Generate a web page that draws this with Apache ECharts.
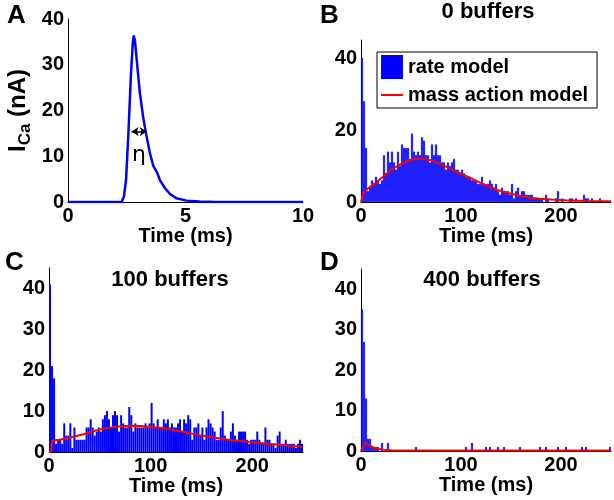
<!DOCTYPE html>
<html>
<head>
<meta charset="utf-8">
<script src="https://cdn.jsdelivr.net/npm/echarts@6/dist/echarts.min.js"></script>
<style>
html, body { margin: 0; padding: 0; background: #fff; }
#chart { width: 614px; height: 500px; }
</style>
</head>
<body>
<div id="chart"></div>
<script>
// A: calcium current, [time (ms), I_Ca (nA)]
var currentTrace = [[0,0],[2.28,0],[2.38,1.2],[2.47,4.8],[2.57,15],[2.68,28],[2.76,35],[2.8,36.4],[2.85,35.2],
  [2.95,29.6],[3.06,23.8],[3.2,18.5],[3.32,15],[3.49,10.6],[3.63,7.9],[3.72,7.1],[3.8,6.3],[3.91,4.8],
  [4.13,3],[4.34,1.75],[4.62,0.8],[5.05,0.3],[5.6,0.1],[6.3,0],[10,0]];

// B-D: histogram counts, 2 ms bins from 0 to 250 ms
var binWidth = 2;
var counts0 = [40,28,15,3,4,6,5,7,6,5,
  6,13,8,14,11,14,11,9,14,10,
  16,15,15,15,12,19,14,13,14,13,
  18,17,13,13,11,16,13,16,13,13,
  11,11,9,11,10,11,12,9,9,8,
  9,8,7,7,7,6,6,6,5,5,
  7,5,5,5,6,5,4,5,3,2,
  4,3,3,3,2,5,1,3,4,2,
  3,3,2,2,2,2,1,1,1,1,
  1,0,2,1,0,0,0,1,3,0,
  1,0,0,0,1,1,0,1,0,0,
  0,2,1,1,0,1,0,0,0,1,
  0,0,0,0,0];
var counts100 = [41,21,18,2,3,3,2,7,4,4,
  7,1,6,3,3,3,3,3,6,6,
  8,6,4,5,6,5,8,9,10,8,
  6,9,10,9,5,9,7,6,6,11,
  9,5,7,6,6,6,6,7,6,7,
  12,7,6,8,6,6,8,7,8,6,
  7,6,6,7,8,5,8,7,9,8,
  3,6,6,7,4,6,3,6,8,7,
  6,5,3,3,6,10,4,3,3,5,
  7,4,3,5,5,5,5,3,2,3,
  3,3,5,3,2,2,6,3,3,2,
  2,1,4,5,2,2,3,2,2,2,
  2,1,2,3,2];
var counts400 = [35,27,13,3,3,1,1,1,1,0,
  2,0,0,2,0,0,0,0,0,0,
  0,0,0,0,0,0,0,1,0,0,
  0,0,0,0,0,0,0,0,0,0,
  0,0,0,0,0,0,0,0,0,0,
  0,0,1,0,0,2,0,0,0,0,
  0,0,1,0,1,0,0,0,1,0,
  0,1,0,0,0,0,0,0,0,1,
  0,0,0,0,0,0,0,0,0,1,
  0,0,1,0,0,0,0,0,1,0,
  0,0,1,0,0,0,0,0,0,0,
  1,0,1,0,0,0,0,0,0,0,
  0,0,0,0,1];

// mass action model curves, [time (ms), rate]
var mass0 = [[0,0],[2,0],[2.5,2.5],[8,4],[16,5.6],[24,7.5],[32,9.3],[42,10.9],[52,11.9],[60,12.1],
  [70,11.6],[79,10.6],[90,9.2],[99,8],[110,6.6],[119,5.4],[130,4.1],[139,3.1],[150,2.3],[159,1.7],
  [170,1.2],[179,0.9],[190,0.7],[205,0.5],[225,0.3],[250,0.2]];
var mass100 = [[0,0],[2,0],[3,2.8],[10,3.0],[17,3.3],[25,3.8],[33,4.3],[41,4.9],[50,5.5],[58,5.9],
  [66,6.2],[74,6.35],[82,6.4],[90,6.35],[99,6.2],[107,6.0],[115,5.8],[123,5.4],[131,5.0],[140,4.55],
  [148,4.1],[164,3.5],[180,2.9],[196,2.5],[213,2.1],[230,1.7],[249,1.3]];
var mass400 = [[0,0],[2,0],[3,1.5],[4.5,2.1],[6,2.0],[9,1.4],[13,0.8],[18,0.5],[23,0.3],[30,0.2],
  [40,0.1],[60,0.1],[250,0.1]];

var seriesNames = ['rate model', 'mass action model'];
var panelTitles = ['0 buffers', '100 buffers', '400 buffers'];

var font = 'Liberation Sans, Arial, Helvetica, sans-serif';
var txt = { fontSize: 20, fontWeight: 'bold', color: '#000', fontFamily: font };

// empty bins get no bar at all
function toBars(counts) {
  var out = [];
  counts.forEach(function (c, i) {
    if (c > 0) out.push([i * binWidth + binWidth / 2, c]);
  });
  return out;
}

function xAx(grid, max, interval, showMax) {
  return {
    type: 'value', gridIndex: grid, min: 0, max: max, interval: interval,
    name: 'Time (ms)', nameLocation: 'middle', nameGap: 22, nameTextStyle: txt,
    axisLine: { onZero: false, lineStyle: { color: '#000', width: 1 } },
    axisTick: { show: false }, splitLine: { show: false },
    axisLabel: Object.assign({ margin: 4, showMaxLabel: showMax }, txt)
  };
}
function yAx(grid, max, interval, showMax) {
  return {
    type: 'value', gridIndex: grid, min: 0, max: max, interval: interval,
    axisLine: { show: true, lineStyle: { color: '#000', width: 1 } },
    axisTick: { show: false }, splitLine: { show: false },
    axisLabel: Object.assign({ margin: 4, showMaxLabel: showMax }, txt)
  };
}
function histSeries(idx, counts, mass, edge) {
  return [{
    name: seriesNames[0], type: 'bar', xAxisIndex: idx, yAxisIndex: idx,
    data: toBars(counts), barWidth: 2, silent: true,
    itemStyle: { color: '#0000ff', borderColor: '#0000ff', borderWidth: edge }
  }, {
    name: seriesNames[1], type: 'line', xAxisIndex: idx, yAxisIndex: idx,
    data: mass, showSymbol: false, silent: true,
    lineStyle: { color: '#ff0000', width: 2 }, itemStyle: { color: '#ff0000' }
  }];
}
function label(text, left, top, size, align) {
  return { text: text, left: left, top: top, padding: 0, textAlign: align,
    textStyle: { fontSize: size, fontWeight: 'bold', color: '#000', fontFamily: font } };
}

var myChart = echarts.init(document.getElementById('chart'));

var yA = yAx(0, 40, 10, true);
yA.name = '{m|I}{s|Ca}{m| (nA)}';
yA.nameLocation = 'middle';
yA.nameGap = 34;
yA.nameTextStyle = { rich: {
  m: { fontSize: 24, fontWeight: 'bold', color: '#000', fontFamily: font },
  s: { fontSize: 17, fontWeight: 'bold', color: '#000', fontFamily: font, padding: [14, 0, 0, 0] }
} };

option = {
  animation: false,
  title: [
    label('A', 7, 3, 26, 'left'),
    label('B', 320, 3, 26, 'left'),
    label('C', 5, 250, 26, 'left'),
    label('D', 320, 250, 26, 'left'),
    label(panelTitles[0], 488, 1, 22, 'center'),
    label(panelTitles[1], 170, 269, 22, 'center'),
    label(panelTitles[2], 482, 269, 22, 'center')
  ],
  legend: {
    left: 377, top: 52, orient: 'vertical',
    backgroundColor: '#fff', borderColor: '#000', borderWidth: 1, borderRadius: 0,
    padding: [3, 9, 3, 4], itemGap: 6, itemWidth: 22, itemHeight: 24,
    textStyle: txt, selectedMode: false,
    data: [{ name: seriesNames[0], icon: 'rect', itemStyle: { borderWidth: 0 } },
           { name: seriesNames[1], icon: 'path://M0,0H22V2H0Z' }]
  },
  grid: [
    { left: 68, top: 19, width: 235, height: 183 },
    { left: 361, top: 40, width: 250, height: 162 },
    { left: 49, top: 268, width: 254, height: 184 },
    { left: 361, top: 269, width: 250, height: 182 }
  ],
  xAxis: [xAx(0, 10, 5, true), xAx(1, 250, 100, false), xAx(2, 250, 100, false), xAx(3, 250, 100, false)],
  yAxis: [yA, yAx(1, 45, 20, false), yAx(2, 45, 10, false), yAx(3, 45, 10, false)],
  series: [{
    type: 'line', xAxisIndex: 0, yAxisIndex: 0, data: currentTrace, showSymbol: false, silent: true,
    lineStyle: { color: '#0000ff', width: 2.5 },
    markLine: {
      silent: true, symbol: ['arrow', 'arrow'], symbolSize: [7, 7],
      lineStyle: { color: '#000', width: 1.5, type: 'solid' }, label: { show: false },
      data: [[{ coord: [2.71, 15.4] }, { coord: [3.35, 15.4] }]]
    },
    markPoint: {
      silent: true, symbol: 'rect', symbolSize: 1, itemStyle: { color: 'rgba(0,0,0,0)' },
      label: { show: true, formatter: 'η', fontSize: 22, color: '#000', fontFamily: 'DejaVu Sans' },
      data: [{ coord: [3.02, 10.3] }]
    }
  }].concat(histSeries(1, counts0, mass0, 0.7), histSeries(2, counts100, mass100, 1.4),
            histSeries(3, counts400, mass400, 0.7))
};

myChart.setOption(option);
</script>
</body>
</html>
